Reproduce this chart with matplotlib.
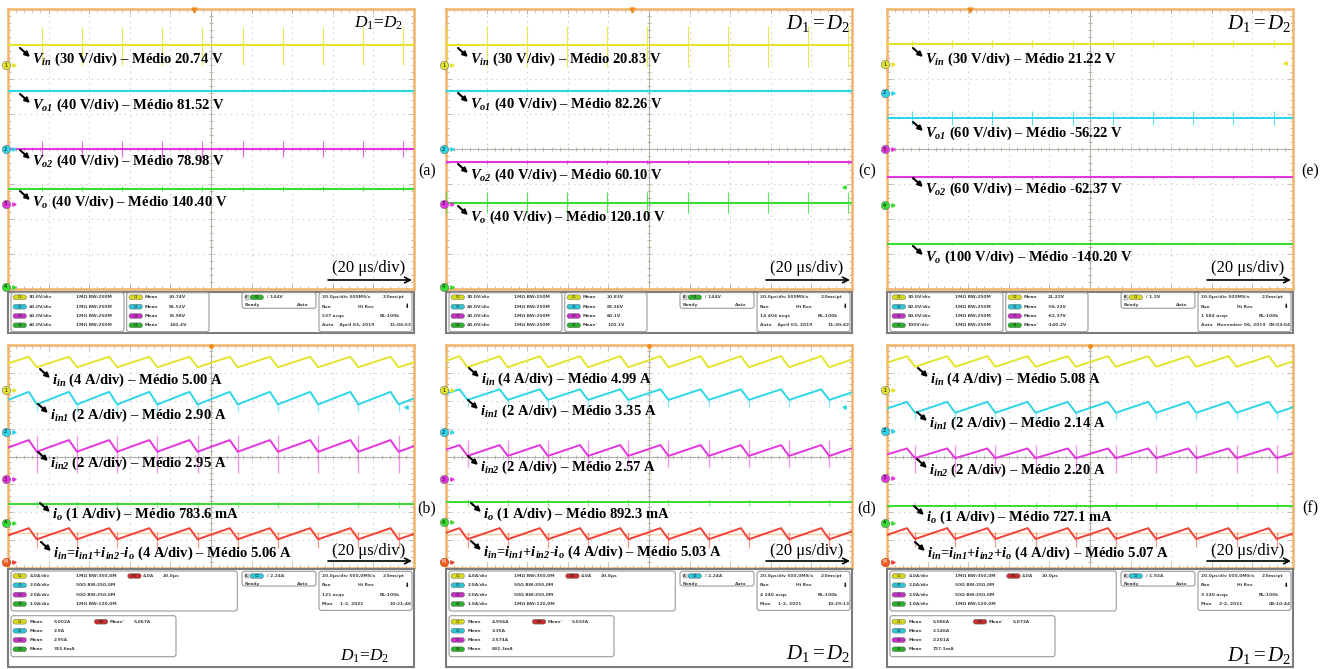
import numpy as np
import matplotlib.pyplot as plt
from matplotlib.patches import FancyBboxPatch, Rectangle

plt.rcParams["font.family"] = "Liberation Serif"
plt.rcParams["mathtext.fontset"] = "custom"
plt.rcParams["mathtext.rm"] = "Liberation Serif"
plt.rcParams["mathtext.it"] = "Liberation Serif:italic"
plt.rcParams["mathtext.bf"] = "Liberation Serif:bold"
plt.rcParams["mathtext.bfit"] = "Liberation Serif:italic:bold"

W, H = 1336, 669

YEL, CYA, MAG, GRN, RED = "#e4e42c", "#2cd6e6", "#e436de", "#36dc30", "#f24236"
FRAME = "#f0b46a"
GRID = "#b4aca0"
TRIG = "#f08c1e"
MATH_REF = "#f6cfa6"
V_COLORS = [YEL, CYA, MAG, GRN]
I_COLORS = [YEL, CYA, MAG, GRN, RED]

PERIOD = 0.99   # switching period, in horizontal divisions (20 us/div)
FALL = 0.2      # falling edge length, in divisions

# ---------------- voltage captures (a) (c) (e) -- levels in divisions
V_NAMES = [r"$\mathbfit{V}_{\mathbfit{in}}$", r"$\mathbfit{V}_{\mathbfit{o1}}$",
           r"$\mathbfit{V}_{\mathbfit{o2}}$", r"$\mathbfit{V}_{\mathbfit{o}}$"]

A_SCALE = ["30 V/div", "40 V/div", "40 V/div", "40 V/div"]
A_MEAN = ["20.74 V", "81.52 V", "78.98 V", "140.40 V"]
A_LEVEL = [2.97, 1.66, 0.00, -1.14]
A_SPK_UP = [0.51, 0.04, 0.23, 0.08]
A_SPK_DN = [0.57, 0.04, 0.23, 0.06]
A_FIRST = 0.83
A_MARK = [2.40, 0.00, -1.57, -3.94]

C_SCALE = ["30 V/div", "40 V/div", "40 V/div", "40 V/div"]
C_MEAN = ["20.83 V", "82.26 V", "60.10 V", "120.10 V"]
C_LEVEL = [2.97, 1.67, -0.38, -1.53]
C_SPK_UP = [0.54, 0.04, 0.06, 0.30]
C_SPK_DN = [0.63, 0.04, 0.06, 0.30]
C_FIRST = 1.00
C_MARK = [2.40, 0.00, -1.57, -3.94]

E_SCALE = ["30 V/div", "60 V/div", "60 V/div", "100 V/div"]
E_MEAN = ["21.22 V", "-56.22 V", "-62.37 V", "-140.20 V"]
E_LEVEL = [3.00, 0.88, -0.81, -2.71]
E_SPK_UP = [0.12, 0.20, 0.04, 0.03]
E_SPK_DN = [0.12, 0.20, 0.04, 0.03]
E_FIRST = 0.61
E_MARK = [2.42, 1.61, 0.00, -1.60]

# ---------------- current captures (b) (d) (f)
I_BASE = [r"$\mathbfit{i}_{\mathbfit{in}}$", r"$\mathbfit{i}_{\mathbfit{in1}}$",
          r"$\mathbfit{i}_{\mathbfit{in2}}$", r"$\mathbfit{i}_{\mathbfit{o}}$"]
I_SUM_MINUS = (r"$\mathbfit{i}_{\mathbfit{in}}$=$\mathbfit{i}_{\mathbfit{in1}}$+"
               r"$\mathbfit{i}_{\mathbfit{in2}}$-$\mathbfit{i}_{\mathbfit{o}}$")
I_SUM_PLUS = (r"$\mathbfit{i}_{\mathbfit{in}}$=$\mathbfit{i}_{\mathbfit{in1}}$+"
              r"$\mathbfit{i}_{\mathbfit{in2}}$+$\mathbfit{i}_{\mathbfit{o}}$")
I_SCALE = ["4 A/div", "2 A/div", "2 A/div", "1 A/div", "4 A/div"]

B_MEAN = ["5.00 A", "2.90 A", "2.95 A", "783.6 mA", "5.06 A"]
B_PEAK = [3.58, 2.32, 0.59, -1.71, -2.57]
B_TROUGH = [3.20, 1.87, 0.17, -1.71, -2.97]
B_SPK_UP = [0.00, 0.04, 0.60, 0.12, 0.25]
B_SPK_DN = [0.00, 0.28, 0.76, 0.12, 0.30]
B_FIRST = 0.71
B_MARK = [2.38, 0.89, -0.82, -2.37, -3.77]
B_REF = -2.75

D_MEAN = ["4.99 A", "3.35 A", "2.57 A", "892.3 mA", "5.03 A"]
D_PEAK = [3.60, 2.41, 0.41, -1.64, -2.57]
D_TROUGH = [3.20, 2.03, 0.02, -1.64, -2.97]
D_SPK_UP = [0.00, 0.04, 0.57, 0.12, 0.25]
D_SPK_DN = [0.00, 0.25, 0.39, 0.12, 0.30]
D_FIRST = 0.53
D_MARK = [2.38, 0.87, -0.82, -2.36, -3.77]
D_REF = -2.78

F_MEAN = ["5.08 A", "2.14 A", "2.20 A", "727.1 mA", "5.07 A"]
F_PEAK = [3.60, 1.96, 0.29, -1.76, -2.57]
F_TROUGH = [3.22, 1.57, -0.06, -1.76, -2.96]
F_SPK_UP = [0.00, 0.04, 0.47, 0.12, 0.25]
F_SPK_DN = [0.00, 0.25, 0.54, 0.12, 0.30]
F_FIRST = 0.69
F_MARK = [2.38, 0.92, -0.76, -2.37, -3.77]
F_REF = -2.75

# ---------------- scope read-outs
V_VDIV_AC = ["30.0V/div", "40.0V/div", "40.0V/div", "40.0V/div"]
V_VDIV_E = ["30.0V/div", "60.0V/div", "60.0V/div", "100V/div"]
V_IMP = ["1MΩ BW:250M"] * 4
A_READ = ["20.74V", "81.52V", "78.98V", "140.4V"]
C_READ = ["20.83V", "82.26V", "60.1V", "120.1V"]
E_READ = ["21.22V", "-56.22V", "-62.37V", "-140.2V"]
I_VDIV = ["4.0A/div", "2.0A/div", "2.0A/div", "1.0A/div"]
I_IMP = ["1MΩ BW:350,0M", "50Ω BW:250,0M", "50Ω BW:250,0M", "1MΩ BW:120,0M"]
B_READ = ["5.002A", "2.9A", "2.95A", "783.6mA", "5.067A"]
D_READ = ["4.994A", "3.35A", "2.574A", "892.3mA", "5.032A"]
F_READ = ["5.086A", "2.146A", "2.201A", "727.1mA", "5.073A"]

# ---------------- layout (pixels)
COLS = [8, 446, 887]
PW = 406
TOP_Y = (9, 289)
BOT_Y = (345, 568)
LETTER_X = [427, 867, 1310]

fig = plt.figure(figsize=(W / 100, H / 100), dpi=100)


def scope(left, y0, y1):
    ax = fig.add_axes([left / W, 1 - y1 / H, PW / W, (y1 - y0) / H])
    ax.set_xlim(0, 10)
    ax.set_ylim(-4, 4)
    ax.set_xticks(np.arange(1, 10))
    ax.set_yticks(np.arange(-3, 4))
    ax.set_xticks(np.arange(0, 10.01, 0.2), minor=True)
    ax.set_yticks(np.arange(-4, 4.01, 0.2), minor=True)
    ax.tick_params(which="both", direction="in", top=True, right=True,
                   labelbottom=False, labelleft=False, color=GRID, width=0.6)
    ax.tick_params(which="major", length=3.5)
    ax.tick_params(which="minor", length=2)
    ax.grid(True, which="major", color="#c4c4c4", linestyle=(0, (1, 4)), linewidth=0.8)
    ax.axhline(0, color=GRID, lw=0.8, zorder=1)
    ax.axvline(5, color=GRID, lw=0.8, zorder=1)
    tk = np.arange(0.2, 10, 0.2)
    ax.plot(tk, np.zeros_like(tk), "|", ms=3, color=GRID, mew=0.6, zorder=1)
    tk = np.arange(-3.8, 4, 0.2)
    ax.plot(np.full_like(tk, 5), tk, "_", ms=3, color=GRID, mew=0.6, zorder=1)
    for s in ax.spines.values():
        s.set_color(FRAME)
        s.set_linewidth(1.8)
    return ax


def spike_times(first):
    t = first + PERIOD * np.arange(-1, 12)
    return t[(t >= 0) & (t <= 10)]


def sawtooth(first, peak, trough):
    tr = first + PERIOD * np.arange(-1, 12)
    pk = tr - FALL * PERIOD
    x = np.column_stack([pk, tr]).ravel()
    y = np.tile([peak, trough], len(tr))
    return x, y


def ch_marker(ax, y, color, tag):
    ax.plot(-0.06, y, "o", ms=6, mfc=color, mec="#707070", mew=0.4, clip_on=False, zorder=7)
    ax.text(-0.06, y, tag, fontsize=3.6, ha="center", va="center", family="DejaVu Sans",
            clip_on=False, zorder=8)
    ax.plot(0.16, y, ">", ms=2.4, color=color, clip_on=False, zorder=7)


def voltage_panel(left, levels, first, up, dn, marks, trig_x, edge=None):
    ax = scope(left, *TOP_Y)
    t = spike_times(first)
    for lvl, u, d, col in zip(levels, up, dn, V_COLORS):
        ax.plot([0, 10], [lvl, lvl], color=col, lw=1.5, zorder=4)
        ax.vlines(t, lvl - d, lvl + u, color=col, lw=0.8, alpha=0.8, zorder=4)
    for i, (m, col) in enumerate(zip(marks, V_COLORS)):
        ch_marker(ax, m, col, str(i + 1))
    ax.plot(trig_x, 3.97, "v", ms=3.5, color=TRIG, clip_on=False, zorder=6)
    if edge is not None:
        ax.plot(9.8, edge[0], "<", ms=2.4, color=edge[1], zorder=6)
    return ax


def current_panel(left, peaks, troughs, first, up, dn, marks, ref, edge=None):
    ax = scope(left, *BOT_Y)
    ax.axhline(ref, color=MATH_REF, lw=1.0, zorder=2)
    t = spike_times(first)
    for pk, tr, u, d, col in zip(peaks, troughs, up, dn, I_COLORS):
        x, y = sawtooth(first, pk, tr)
        ax.plot(x, y, color=col, lw=1.4, zorder=4)
        if u or d:
            ax.vlines(t, tr - d, tr + u, color=col, lw=0.9, alpha=0.55, zorder=4)
    for i, (m, col) in enumerate(zip(marks[:4], I_COLORS)):
        ch_marker(ax, m, col, str(i + 1))
    ax.plot(-0.06, marks[4], "o", ms=6, mfc="#f05a1e", mec="#a04010", mew=0.4,
            clip_on=False, zorder=7)
    ax.text(-0.06, marks[4], "M", fontsize=3.4, ha="center", va="center",
            family="DejaVu Sans", color="white", clip_on=False, zorder=8)
    ax.plot(0.16, marks[4], ">", ms=2.4, color=RED, clip_on=False, zorder=7)
    ax.plot(5.0, 3.97, "o", ms=2.5, color=TRIG, clip_on=False, zorder=6)
    if edge is not None:
        ax.plot(9.8, edge[0], "<", ms=2.4, color=edge[1], zorder=6)
    return ax


voltage_panel(COLS[0], A_LEVEL, A_FIRST, A_SPK_UP, A_SPK_DN, A_MARK, 4.58)
voltage_panel(COLS[1], C_LEVEL, C_FIRST, C_SPK_UP, C_SPK_DN, C_MARK, 4.59, (-1.09, GRN))
voltage_panel(COLS[2], E_LEVEL, E_FIRST, E_SPK_UP, E_SPK_DN, E_MARK, 2.04, (2.45, YEL))
current_panel(COLS[0], B_PEAK, B_TROUGH, B_FIRST, B_SPK_UP, B_SPK_DN, B_MARK, B_REF, (1.78, CYA))
current_panel(COLS[1], D_PEAK, D_TROUGH, D_FIRST, D_SPK_UP, D_SPK_DN, D_MARK, D_REF, (1.76, CYA))
current_panel(COLS[2], F_PEAK, F_TROUGH, F_FIRST, F_SPK_UP, F_SPK_DN, F_MARK, F_REF)

# overlay in pixel units for annotations and read-out bars
ov = fig.add_axes([0, 0, 1, 1])
ov.set_xlim(0, W)
ov.set_ylim(H, 0)
ov.axis("off")
ov.set_zorder(10)

LABEL_KW = dict(fontsize=10.5, fontweight="bold", ha="left", va="center", color="black")


def label(x, y, text):
    ov.annotate("", xy=(x - 2, y - 2), xytext=(x - 12, y - 11),
                arrowprops=dict(arrowstyle="-|>", color="black", lw=1.5,
                                mutation_scale=7, shrinkA=0, shrinkB=0))
    ov.text(x, y, text, **LABEL_KW)


def timebase(left, ty, ay):
    ov.text(left + 324, ty, "(20 μs/div)", fontsize=12, ha="left", va="center")
    ov.annotate("", xy=(left + 404, ay), xytext=(left + 320, ay),
                arrowprops=dict(arrowstyle="->", color="black", lw=1.2,
                                mutation_scale=10, shrinkA=0, shrinkB=0))


# --- labels on voltage panels
A_LY = [59, 105, 161, 202]
C_LY = [59, 104, 175, 217]
E_LY = [59, 133, 189, 257]
for left, lx, ly, scales, means in [(COLS[0], 32, A_LY, A_SCALE, A_MEAN),
                                    (COLS[1], 470, C_LY, C_SCALE, C_MEAN),
                                    (COLS[2], 925, E_LY, E_SCALE, E_MEAN)]:
    for y, name, sc, mn in zip(ly, V_NAMES, scales, means):
        label(lx, y, f"{name} ({sc}) – Médio {mn}")
    timebase(left, 268, 280)

# --- labels on current panels
B_LX = [52, 50, 50, 52, 53]
B_LY = [380, 415, 463, 514, 553]
D_LX = [481, 480, 480, 483, 483]
D_LY = [379, 411, 467, 514, 552]
F_LX = [930, 929, 929, 926, 927]
F_LY = [379, 423, 470, 517, 553]
for left, lxs, lys, means, last in [(COLS[0], B_LX, B_LY, B_MEAN, I_SUM_MINUS),
                                    (COLS[1], D_LX, D_LY, D_MEAN, I_SUM_MINUS),
                                    (COLS[2], F_LX, F_LY, F_MEAN, I_SUM_PLUS)]:
    for x, y, name, sc, mn in zip(lxs, lys, I_BASE + [last], I_SCALE, means):
        label(x, y, f"{name} ({sc}) – Médio {mn}")
    timebase(left, 551, 561)

# --- duty-cycle tags
ov.text(COLS[0] + 370, 23, r"$D_1$=$D_2$", fontsize=12.5, ha="center", va="center")
ov.text(COLS[1] + 372, 23, r"$D_1 = D_2$", fontsize=15, ha="center", va="center")
ov.text(COLS[2] + 372, 23, r"$D_1 = D_2$", fontsize=15, ha="center", va="center")
ov.text(COLS[0] + 356, 656, r"$D_1$=$D_2$", fontsize=12.5, ha="center", va="center")
ov.text(COLS[1] + 372, 653, r"$D_1 = D_2$", fontsize=15, ha="center", va="center")
ov.text(COLS[2] + 372, 655, r"$D_1 = D_2$", fontsize=15, ha="center", va="center")

# --- panel letters
for x, letter in zip(LETTER_X, ["(a)", "(c)", "(e)"]):
    ov.text(x, 171, letter, fontsize=11.5, ha="center", va="center")
for x, letter in zip(LETTER_X, ["(b)", "(d)", "(f)"]):
    ov.text(x, 508, letter, fontsize=11.5, ha="center", va="center")

# --- read-out bars
SMALL = dict(fontsize=3.2, family="DejaVu Sans", fontweight="bold", color="#444444",
             ha="left", va="center")
PILL_COLORS = {"C1": "#d8d820", "C2": "#30c4d6", "C3": "#c432c4", "C4": "#2eb02e", "M1": "#c83030"}


def box(x0, y0, x1, y1):
    ov.add_patch(FancyBboxPatch((x0, y0), x1 - x0, y1 - y0,
                                boxstyle="round,pad=0,rounding_size=2.5",
                                fc="white", ec="#9a9a9a", lw=0.8))


def pill(x, y, tag):
    ov.add_patch(FancyBboxPatch((x, y - 2.4), 13.5, 4.8,
                                boxstyle="round,pad=0,rounding_size=2.4",
                                fc=PILL_COLORS[tag], ec="#606060", lw=0.3))
    ov.text(x + 6.7, y, tag, fontsize=2.4, family="DejaVu Sans", color="#222222",
            ha="center", va="center")


def timebase_box(L, rows, rate, acqs, date, clock):
    box(L + 311, rows[0] - 4.7, L + 404, rows[3] + 6.4)
    ov.text(L + 313.7, rows[0], f"20.0μs/div {rate}", **SMALL)
    ov.text(L + 374.7, rows[0], "2.0ms/pt", **SMALL)
    ov.text(L + 313.7, rows[1], "Run", **SMALL)
    ov.text(L + 350, rows[1], "Hi Res", **SMALL)
    ov.text(L + 396, rows[1], "⬇", fontsize=4, family="DejaVu Sans", ha="left", va="center")
    ov.text(L + 313.7, rows[2], acqs, **SMALL)
    ov.text(L + 372, rows[2], "RL:100k", **SMALL)
    ov.text(L + 313.7, rows[3], date, **SMALL)
    ov.text(L + 382, rows[3], clock, **SMALL)


def trigger_box(L, y, tag, level, y_bottom):
    box(L + 234, y - 4.7, L + 308, y_bottom)
    ov.add_patch(Rectangle((L + 236.5, y - 2.4), 4, 4.8, fc="#dddddd", ec="#777777", lw=0.3))
    ov.text(L + 238.5, y, "A", fontsize=2.6, family="DejaVu Sans", ha="center", va="center")
    pill(L + 242, y, tag)
    ov.text(L + 258.7, y, f"/ {level}", **SMALL)
    ov.text(L + 237, y + 8, "Ready", **SMALL)
    ov.text(L + 288.7, y + 8, "Auto", **SMALL)


def top_readout(L, vdiv, reads, tag, level, acqs, date, clock):
    ov.add_patch(Rectangle((L, 291.5), PW, 41, fc="white", ec="#7c7c7c", lw=1.5))
    rows = [297.3, 306.7, 316.0, 325.3]
    box(L + 3, 292.7, L + 116, 331.7)
    box(L + 118.7, 292.7, L + 201, 331.7)
    for i, y in enumerate(rows):
        tag_i = f"C{i + 1}"
        pill(L + 5, y, tag_i)
        ov.text(L + 21, y, vdiv[i], **SMALL)
        ov.text(L + 68, y, V_IMP[i], **SMALL)
        pill(L + 121, y, tag_i)
        ov.text(L + 137, y, "Mean" if i < 3 else "Mean'", **SMALL)
        ov.text(L + 161, y, reads[i], **SMALL)
    trigger_box(L, rows[0], tag, level, 308.3)
    timebase_box(L, rows, "500MS/s", acqs, date, clock)


def bottom_readout(L, level, reads, acqs, date, clock):
    ov.add_patch(Rectangle((L, 569.3), PW, 98, fc="white", ec="#7c7c7c", lw=1.5))
    rows = [576.0, 585.3, 594.7, 604.0]
    box(L + 3, 571, L + 229.3, 611)
    for i, y in enumerate(rows):
        pill(L + 5, y, f"C{i + 1}")
        ov.text(L + 21.3, y, I_VDIV[i], **SMALL)
        ov.text(L + 68, y, I_IMP[i], **SMALL)
    pill(L + 119.7, rows[0], "M1")
    ov.text(L + 134.7, rows[0], "4.0A", **SMALL)
    ov.text(L + 154.7, rows[0], "20.0μs", **SMALL)
    trigger_box(L, rows[0], "C2", level, 586)
    timebase_box(L, rows, "500,0MS/s", acqs, date, clock)
    mrows = [621.7, 630.7, 640.0, 649.3]
    box(L + 3, 615.7, L + 168, 656.7)
    for i, y in enumerate(mrows):
        pill(L + 5, y, f"C{i + 1}")
        ov.text(L + 21.3, y, "Mean", **SMALL)
        ov.text(L + 45.3, y, reads[i], **SMALL)
    pill(L + 86.3, mrows[0], "M1")
    ov.text(L + 101.3, mrows[0], "Mean'", **SMALL)
    ov.text(L + 125.3, mrows[0], reads[4], **SMALL)


top_readout(COLS[0], V_VDIV_AC, A_READ, "C4", "144V", "537 acqs", "Auto    April 03, 2019", "11:06:53")
top_readout(COLS[1], V_VDIV_AC, C_READ, "C4", "144V", "14 404 acqs", "Auto    April 03, 2019", "11:30:42")
top_readout(COLS[2], V_VDIV_E, E_READ, "C1", "1.2V", "1 584 acqs", "Auto   November 06, 2019", "09:03:04")
bottom_readout(COLS[0], "2.24A", B_READ, "121 acqs", "Mon     1-2, 2021", "10:21:46")
bottom_readout(COLS[1], "2.24A", D_READ, "4 240 acqs", "Mon     1-2, 2021", "10:29:13")
bottom_readout(COLS[2], "1.92A", F_READ, "3 140 acqs", "Mon     2-2, 2021", "08:10:44")

fig.savefig("out.png", dpi=100, facecolor="white")
